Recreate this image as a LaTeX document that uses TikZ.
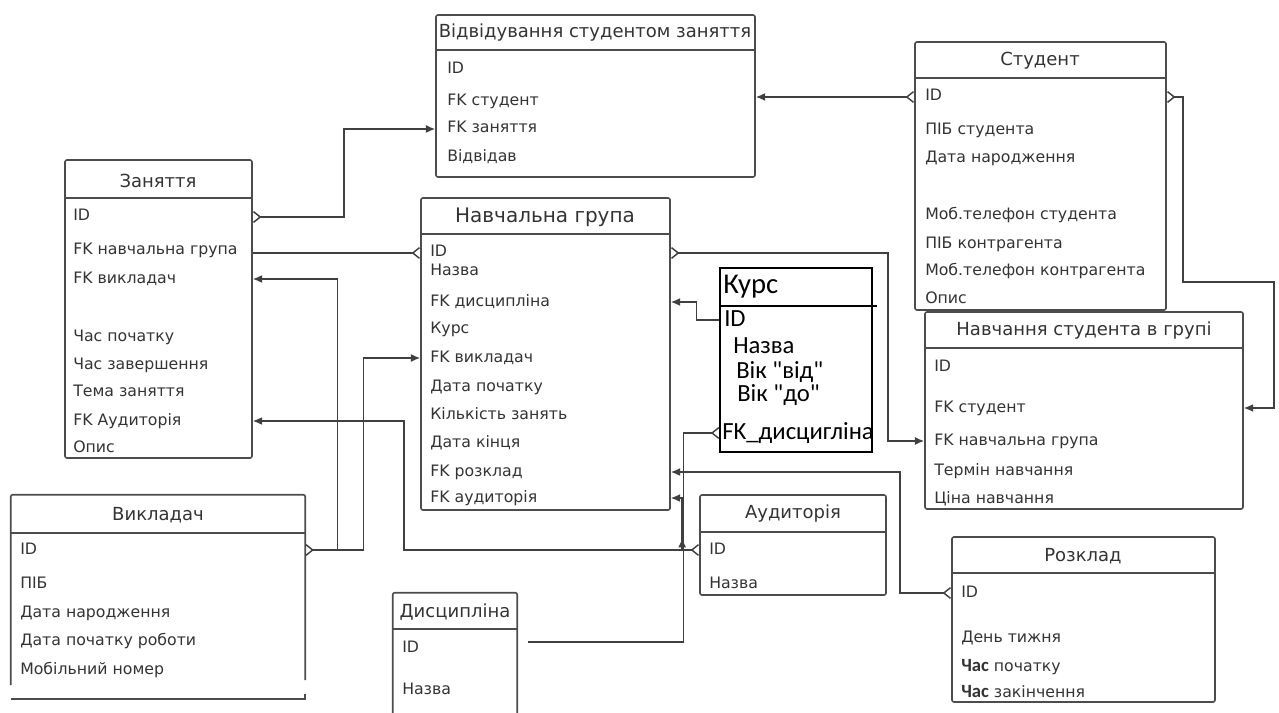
\documentclass[tikz,border=0pt]{standalone}
\usepackage{fontspec}
\setmainfont{DejaVu Sans}
\newfontfamily\calib{Carlito}
\usetikzlibrary{arrows.meta,fit}

\begin{document}
\begin{tikzpicture}[x=0.75pt,y=-0.75pt]
    \tikzstyle{tbl}=[draw=black!70,line width=1.2pt,rounded corners=1.5pt,inner sep=0pt]
    \tikzstyle{hline}=[draw=black!70,line width=1.2pt]
    \tikzstyle{head}=[inner sep=0pt,font=\fontsize{13.5}{16}\selectfont,text=black!80]
    \tikzstyle{field}=[anchor=west,inner sep=0pt,text height=8.5pt,text depth=2.5pt,font=\fontsize{11.8}{14}\selectfont,text=black!80]
    \tikzstyle{kfield}=[anchor=west,inner sep=0pt,text height=13pt,text depth=4pt,font=\calib\fontsize{18.5}{22}\selectfont]
    \tikzstyle{link}=[draw=black!75,line width=1.1pt]
    \tikzset{crow/.tip={Straight Barb[reversed,length=5pt,width=8pt]},>={Latex[length=7pt,width=6pt]}}

    \useasboundingbox (0,0) rectangle (1279,713);

    % Відвідування студентом заняття
    \node[tbl,fit={(436,15) (755,177)}] (vidv) {};
    \draw[hline] (vidv.west |- 0,50) -- (vidv.east |- 0,50);
    \node[head] (vidv_h) at (595,33) {Відвідування студентом заняття};
    \node[field] (vidv_id) at (447,70) {ID};
    \node[field] (vidv_fk_st) at (447,102) {FK студент};
    \node[field] (vidv_fk_zan) at (447,129) {FK заняття};
    \node[field] (vidv_vidv) at (447,158) {Відвідав};

    % Студент
    \node[tbl,fit={(915,42) (1166,310)}] (stud) {};
    \draw[hline] (stud.west |- 0,78) -- (stud.east |- 0,78);
    \node[head] (stud_h) at (1040,61) {Студент};
    \node[field] (stud_id) at (925,97) {ID};
    \node[field] (stud_pib) at (925,131) {ПІБ студента};
    \node[field] (stud_dn) at (925,159) {Дата народження};
    \node[field] (stud_tel) at (925,216) {Моб.телефон студента};
    \node[field] (stud_pib_k) at (925,244) {ПІБ контрагента};
    \node[field] (stud_tel_k) at (925,272) {Моб.телефон контрагента};
    \node[field] (stud_opys) at (925,300) {Опис};

    % Заняття
    \node[tbl,fit={(65,160) (252,458)}] (zan) {};
    \draw[hline] (zan.west |- 0,198) -- (zan.east |- 0,198);
    \node[head] (zan_h) at (158,181) {Заняття};
    \node[field] (zan_id) at (73,217) {ID};
    \node[field] (zan_fk_ng) at (73,251) {FK навчальна група};
    \node[field] (zan_fk_vykl) at (73,279) {FK викладач};
    \node[field] (zan_start) at (73,337) {Час початку};
    \node[field] (zan_end) at (73,365) {Час завершення};
    \node[field] (zan_tema) at (73,392) {Тема заняття};
    \node[field] (zan_fk_aud) at (73,421) {FK Аудиторія};
    \node[field] (zan_opys) at (73,448) {Опис};

    % Навчальна група
    \node[tbl,fit={(421,198) (670,510)}] (ng) {};
    \draw[hline] (ng.west |- 0,234) -- (ng.east |- 0,234);
    \node[head,font=\fontsize{15}{18}\selectfont] (ng_h) at (545,217) {Навчальна група};
    \node[field] (ng_id) at (430,253) {ID};
    \node[field] (ng_nazva) at (430,272) {Назва};
    \node[field] (ng_fk_dysc) at (430,302) {FK дисципліна};
    \node[field] (ng_kurs) at (430,330) {Курс};
    \node[field] (ng_fk_vykl) at (430,358) {FK викладач};
    \node[field] (ng_start) at (430,387) {Дата початку};
    \node[field] (ng_count) at (430,415) {Кількість занять};
    \node[field] (ng_end) at (430,443) {Дата кінця};
    \node[field] (ng_fk_rozk) at (430,472) {FK розклад};
    \node[field] (ng_fk_aud) at (430,498) {FK аудиторія};

    % Курс
    \node[draw,line width=0.8pt,inner sep=0pt,fit={(720,268) (872,452)}] (kurs) {};
    \draw[line width=0.8pt] (kurs.west |- 0,306) -- ([xshift=3pt]kurs.east |- 0,306);
    \node[kfield,font=\calib\fontsize{21.5}{24}\selectfont] (kurs_h) at (723,287) {Курс};
    \node[kfield] (kurs_id) at (724,320) {ID};
    \node[kfield] (kurs_nazva) at (733,347) {Назва};
    \node[kfield] (kurs_vid) at (736,372) {Вік "від"};
    \node[kfield] (kurs_do) at (737,395) {Вік "до"};
    \node[kfield] (kurs_fk) at (722,433) {FK\_дисцигліна};

    % Навчання студента в групі
    \node[tbl,fit={(925,312) (1243,509)}] (navch) {};
    \draw[hline] (navch.west |- 0,348) -- (navch.east |- 0,348);
    \node[head] (navch_h) at (1084,331) {Навчання студента в групі};
    \node[field] (navch_id) at (934,367) {ID};
    \node[field] (navch_fk_st) at (934,408) {FK студент};
    \node[field] (navch_fk_ng) at (934,441) {FK навчальна група};
    \node[field] (navch_term) at (934,471) {Термін навчання};
    \node[field] (navch_price) at (934,499) {Ціна навчання};

    % Викладач
    \node[inner sep=0pt,fit={(11,495) (305,699)}] (vykl) {};
    \draw[hline,rounded corners=1.5pt] (vykl.west |- 0,685) -- (vykl.north west) -- (vykl.north east) -- (vykl.east |- 0,680);
    \draw[hline] (vykl.south west) -- (vykl.south east) -- ++(0,-5);
    \draw[hline] (vykl.west |- 0,533) -- (vykl.east |- 0,533);
    \node[head] (vykl_h) at (158,515) {Викладач};
    \node[field] (vykl_id) at (20,550) {ID};
    \node[field] (vykl_pib) at (20,584) {ПІБ};
    \node[field] (vykl_dn) at (20,613) {Дата народження};
    \node[field] (vykl_start) at (20,641) {Дата початку роботи};
    \node[field] (vykl_tel) at (20,670) {Мобільний номер};

    % Дисципліна
    \node[inner sep=0pt,fit={(393,593) (517,713)}] (dysc) {};
    \draw[hline,rounded corners=1.5pt] (dysc.south west) -- (dysc.north west) -- (dysc.north east) -- (dysc.south east);
    \draw[hline] (dysc.west |- 0,629) -- (dysc.east |- 0,629);
    \node[head] (dysc_h) at (455,612) {Дисципліна};
    \node[field] (dysc_id) at (402,648) {ID};
    \node[field] (dysc_nazva) at (402,690) {Назва};

    % Аудиторія
    \node[tbl,fit={(700,495) (886,595)}] (aud) {};
    \draw[hline] (aud.west |- 0,532) -- (aud.east |- 0,532);
    \node[head] (aud_h) at (793,514) {Аудиторія};
    \node[field] (aud_id) at (709,550) {ID};
    \node[field] (aud_nazva) at (709,584) {Назва};

    % Розклад
    \node[tbl,fit={(952,537) (1215,702)}] (rozk) {};
    \draw[hline] (rozk.west |- 0,573) -- (rozk.east |- 0,573);
    \node[head] (rozk_h) at (1083,556) {Розклад};
    \node[field] (rozk_id) at (961,593) {ID};
    \node[field] (rozk_day) at (961,638) {День тижня};
    \node[field] (rozk_start) at (961,667) {{\calib\bfseries\fontsize{14}{15}\selectfont Час} початку};
    \node[field] (rozk_end) at (961,693) {{\calib\bfseries\fontsize{14}{15}\selectfont Час} закінчення};

    % зв'язки
    \draw[link,crow->] (zan.east |- zan_id) -- ++(91,0) |- (vidv.west |- vidv_fk_zan);
    \draw[link,crow->] (stud.west |- stud_id) -- (vidv.east |- stud_id);
    \draw[link,crow->] (stud.east |- stud_id) -- ++(16,0) |- ++(91,185) |- (navch.east |- navch_fk_st);
    \draw[link,-crow] (zan.east |- ng_id) -- (ng.west |- ng_id);
    \draw[link,crow->] (vykl.east |- vykl_id) -- ++(32,0) |- (zan.east |- zan_fk_vykl);
    \draw[link,->] (vykl.east |- vykl_id) ++(32,0) -- ++(26,0) |- (ng.west |- ng_fk_vykl);
    \draw[link,crow->] (aud.west |- aud_id) -- ++(-295,0) |- (zan.east |- zan_fk_aud);
    \draw[link,->] (aud.west |- aud_id) ++(-17,0) |- (ng.east |- ng_fk_aud);
    \draw[link,->] (aud.west |- aud_id) ++(-17,0) -- ++(0,-12);
    \draw[link,crow->] (ng.east |- ng_id) -- ++(217,0) |- (navch.west |- navch_fk_ng);
    \draw[link,->] (kurs.west |- kurs_id) -- ++(-23,0) |- (ng.east |- ng_fk_dysc);
    \draw[link,-crow] (dysc.east |- dysc_id) ++(11,-6) -- ++(155,0) |- (kurs.west |- kurs_fk);
    \draw[link,crow->] (rozk.west |- rozk_id) -- ++(-51,0) |- (ng.east |- ng_fk_rozk);
\end{tikzpicture}
\end{document}
